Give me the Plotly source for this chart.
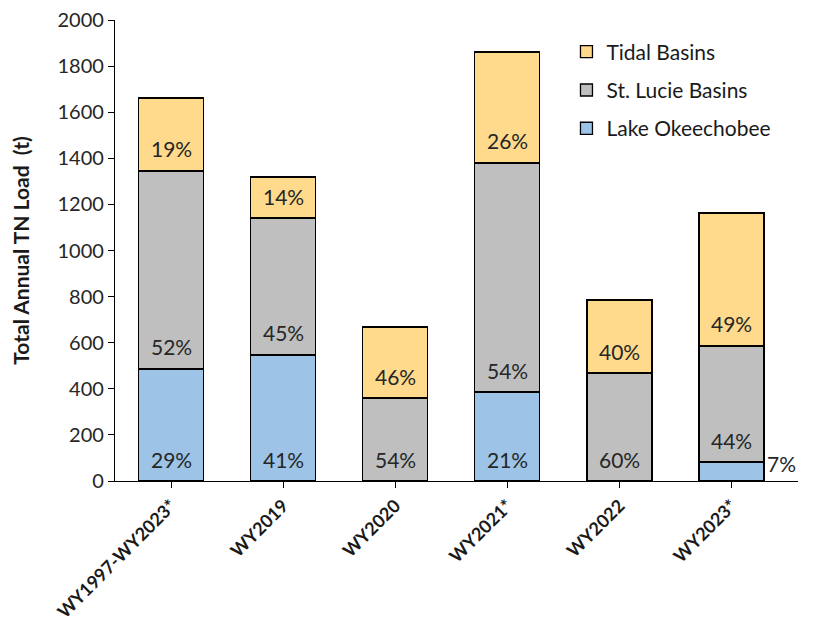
import plotly.graph_objects as go

categories = ["WY1997-WY2023*", "WY2019", "WY2020", "WY2021*", "WY2022", "WY2023*"]
lake = [486, 547, 0, 386, 0, 82]
stlucie = [859, 594, 360, 994, 468, 504]
tidal = [316, 178, 308, 481, 317, 577]
lake_pct = ["29%", "41%", "", "21%", "", ""]
stlucie_pct = ["52%", "45%", "54%", "54%", "60%", "44%"]
tidal_pct = ["19%", "14%", "46%", "26%", "40%", "49%"]
y_ticks = [0, 200, 400, 600, 800, 1000, 1200, 1400, 1600, 1800, 2000]

FONT = "Lato, 'Open Sans', sans-serif"
TXT = dict(family=FONT, size=21, color="#262626")

fig = go.Figure()
series = [
    ("Lake Okeechobee", lake, lake_pct, "#9DC3E6", "a", 3),
    ("St. Lucie Basins", stlucie, stlucie_pct, "#BFBFBF", "b", 2),
    ("Tidal Basins", tidal, tidal_pct, "#FFD98C", "c", 1),
]
base = [0] * len(categories)
for name, vals, txt, color, grp, rank in series:
    fig.add_trace(go.Bar(
        x=categories, y=vals, name=name, legendgroup=grp, legendrank=rank,
        marker=dict(color=color, line=dict(color="#000000", width=1.3)),
        width=0.58,
    ))
    for i, c in enumerate(categories):
        if txt[i]:
            fig.add_annotation(x=c, y=base[i], text=txt[i], showarrow=False,
                               yanchor="middle", yshift=22, font=TXT)
    base = [b + v for b, v in zip(base, vals)]

fig.add_annotation(x=categories[5], y=lake[5] / 2, text="7%", showarrow=False,
                   xshift=50, yshift=8, font=TXT)

fig.update_layout(
    barmode="stack",
    width=809, height=621,
    margin=dict(l=107, r=19, t=12, b=148),
    paper_bgcolor="white", plot_bgcolor="white",
    font=dict(family=FONT, color="#262626"),
    legend=dict(x=0.661, y=0.975, xanchor="left", yanchor="top",
                traceorder="grouped", tracegroupgap=8,
                font=dict(family=FONT, size=21, color="#1a1a1a"),
                bgcolor="rgba(0,0,0,0)"),
    showlegend=True,
)
fig.update_yaxes(range=[0, 2000], tickvals=y_ticks, showgrid=False, zeroline=False,
                 automargin=False, ticklabeloverflow="allow",
                 showline=True, linecolor="#000000", linewidth=1.3,
                 ticks="outside", ticklen=6, tickcolor="#000000",
                 tickfont=dict(family=FONT, size=20, color="#262626"),
                 title=dict(text="<b>Total Annual TN Load  (t)</b>",
                            font=dict(family=FONT, size=21, color="#1a1a1a"), standoff=23))
fig.update_xaxes(showgrid=False, showline=True, linecolor="#000000", linewidth=1.3,
                 automargin=False, ticklabeloverflow="allow",
                 ticks="outside", ticklen=6, tickcolor="#000000", tickangle=-45,
                 tickfont=dict(family=FONT, size=18, color="#1a1a1a"),
                 tickprefix="<b>", ticksuffix="</b>")

fig.write_html("out.html")
